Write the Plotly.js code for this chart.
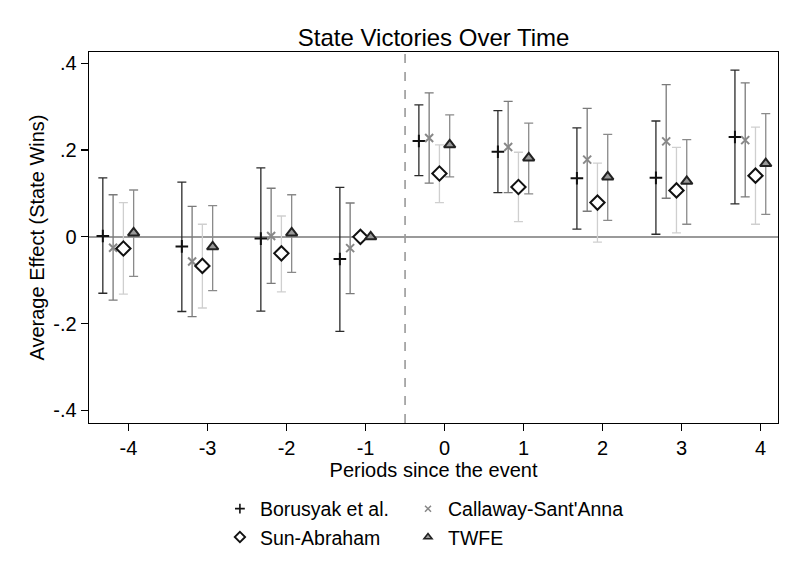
<!DOCTYPE html>
<html>
<head>
<meta charset="utf-8">
<script src="https://cdn.plot.ly/plotly-3.0.1.min.js"></script>
<style>html,body{margin:0;padding:0;background:#fff;}#chart{width:800px;height:582px;}</style>
</head>
<body>
<div id="chart"></div>
<script>
// ---- data ----
var periods = [-4, -3, -2, -1, 0, 1, 2, 3, 4];
var xTickLabels = ['-4', '-3', '-2', '-1', '0', '1', '2', '3', '4'];
var yTickVals = [-0.4, -0.2, 0, 0.2, 0.4];
var yTickLabels = ['-.4', '-.2', '0', '.2', '.4'];
var eventLine = -0.5;

var borusyakEst = [0.002, -0.022, -0.004, -0.051, 0.221, 0.196, 0.135, 0.136, 0.230];
var borusyakLo  = [-0.130, -0.172, -0.171, -0.218, 0.141, 0.102, 0.018, 0.006, 0.076];
var borusyakHi  = [0.136, 0.126, 0.159, 0.114, 0.304, 0.291, 0.251, 0.267, 0.384];

var callawayEst = [-0.025, -0.057, 0.002, -0.026, 0.228, 0.207, 0.178, 0.220, 0.223];
var callawayLo  = [-0.146, -0.184, -0.107, -0.131, 0.124, 0.102, 0.059, 0.089, 0.092];
var callawayHi  = [0.097, 0.070, 0.112, 0.078, 0.332, 0.312, 0.296, 0.351, 0.355];

var sunEst = [-0.027, -0.067, -0.038, 0, 0.146, 0.115, 0.079, 0.107, 0.141];
var sunLo  = [-0.132, -0.164, -0.127, null, 0.079, 0.035, -0.012, 0.009, 0.029];
var sunHi  = [0.079, 0.029, 0.048, null, 0.212, 0.195, 0.170, 0.206, 0.253];

var twfeEst = [0.009, -0.023, 0.009, 0, 0.212, 0.182, 0.138, 0.128, 0.169];
var twfeLo  = [-0.091, -0.124, -0.082, null, 0.138, 0.099, 0.038, 0.029, 0.052];
var twfeHi  = [0.108, 0.072, 0.097, null, 0.281, 0.262, 0.236, 0.224, 0.284];

// horizontal dodge of each estimator within a period
var dodge = {borusyak: -0.325, callaway: -0.195, sun: -0.065, twfe: 0.065};

function shift(off) { return periods.map(function (p) { return p + off; }); }
function plus(hi, est) { return hi.map(function (h, i) { return h === null ? null : h - est[i]; }); }
function minus(lo, est) { return lo.map(function (l, i) { return l === null ? null : est[i] - l; }); }

function trace(name, est, lo, hi, off, marker, ciColor) {
  return {
    type: 'scatter', mode: 'markers', name: name, showlegend: false,
    x: shift(off), y: est,
    error_y: {type: 'data', symmetric: false, array: plus(hi, est), arrayminus: minus(lo, est),
              color: ciColor, thickness: 1.3, width: 4.5},
    marker: marker, hoverinfo: 'x+y'
  };
}
// legend-only entries (smaller symbols, like the reference key)
function key(name, marker, legendId) {
  return {type: 'scatter', mode: 'markers', name: name, x: [null], y: [null],
          marker: marker, legend: legendId, showlegend: true, hoverinfo: 'skip'};
}

var mB = {symbol: 'cross-thin', size: 9, color: '#111', line: {color: '#111', width: 2}};
var mC = {symbol: 'x-thin', size: 8, color: '#888', line: {color: '#888', width: 2}};
var mS = {symbol: 'diamond', size: 11, color: '#fff', line: {color: '#111', width: 2}};
var mT = {symbol: 'triangle-up', size: 10, color: '#999', line: {color: '#222', width: 2}};

var data = [
  trace('Borusyak et al.', borusyakEst, borusyakLo, borusyakHi, dodge.borusyak, mB, '#2b2b2b'),
  trace("Callaway-Sant'Anna", callawayEst, callawayLo, callawayHi, dodge.callaway, mC, '#7a7a7a'),
  trace('Sun-Abraham', sunEst, sunLo, sunHi, dodge.sun, mS, '#cfcfcf'),
  trace('TWFE', twfeEst, twfeLo, twfeHi, dodge.twfe, mT, '#8a8a8a'),
  key('Borusyak et al.', {symbol: 'cross-thin', size: 7, color: '#111', line: {color: '#111', width: 1.6}}, 'legend'),
  key('Sun-Abraham', {symbol: 'diamond', size: 8, color: '#fff', line: {color: '#111', width: 1.8}}, 'legend'),
  key("Callaway-Sant'Anna", {symbol: 'x-thin', size: 6, color: '#888', line: {color: '#888', width: 1.5}}, 'legend2'),
  key('TWFE', {symbol: 'triangle-up', size: 7, color: '#999', line: {color: '#222', width: 1.6}}, 'legend2')
];

var fontFam = 'Liberation Sans, Arial, sans-serif';
var legendBase = {orientation: 'v', xanchor: 'left', yanchor: 'middle', y: -0.2695,
                  traceorder: 'normal', tracegroupgap: 0,
                  font: {family: fontFam, size: 19.5, color: '#000'},
                  bgcolor: 'rgba(0,0,0,0)', borderwidth: 0};

var layout = {
  width: 800, height: 582,
  paper_bgcolor: '#fff', plot_bgcolor: '#fff',
  margin: {l: 89, r: 22, t: 52, b: 159},
  font: {family: fontFam, color: '#000'},
  title: {text: 'State Victories Over Time', x: 0.542, xanchor: 'center', y: 0.936, yanchor: 'middle',
          font: {family: fontFam, size: 24, color: '#000'}},
  showlegend: true,
  legend: Object.assign({}, legendBase, {x: 0.19}),
  legend2: Object.assign({}, legendBase, {x: 0.463}),
  xaxis: {
    range: [-4.5, 4.22], tickvals: periods, ticktext: xTickLabels,
    ticks: 'outside', ticklen: 7, tickwidth: 1.2, tickcolor: '#000',
    showline: true, linecolor: '#000', linewidth: 1.3, mirror: true,
    showgrid: false, zeroline: false,
    tickfont: {family: fontFam, size: 20, color: '#000'},
    title: {text: 'Periods since the event', standoff: 1, font: {family: fontFam, size: 20, color: '#000'}}
  },
  yaxis: {
    range: [-0.429, 0.426], tickvals: yTickVals, ticktext: yTickLabels,
    ticks: 'outside', ticklen: 7, tickwidth: 1.2, tickcolor: '#000',
    showline: true, linecolor: '#000', linewidth: 1.3, mirror: true,
    showgrid: false, zeroline: true, zerolinecolor: '#9a9a9a', zerolinewidth: 1.6,
    tickfont: {family: fontFam, size: 20, color: '#000'},
    title: {text: 'Average Effect (State Wins)', standoff: 3, font: {family: fontFam, size: 20, color: '#000'}}
  },
  shapes: [{type: 'line', xref: 'x', yref: 'paper', x0: eventLine, x1: eventLine, y0: 0, y1: 1,
            line: {color: '#9a9a9a', width: 1.6, dash: 'dash'}, layer: 'below'}]
};

Plotly.newPlot('chart', data, layout, {displayModeBar: false, staticPlot: true});
</script>
</body>
</html>
